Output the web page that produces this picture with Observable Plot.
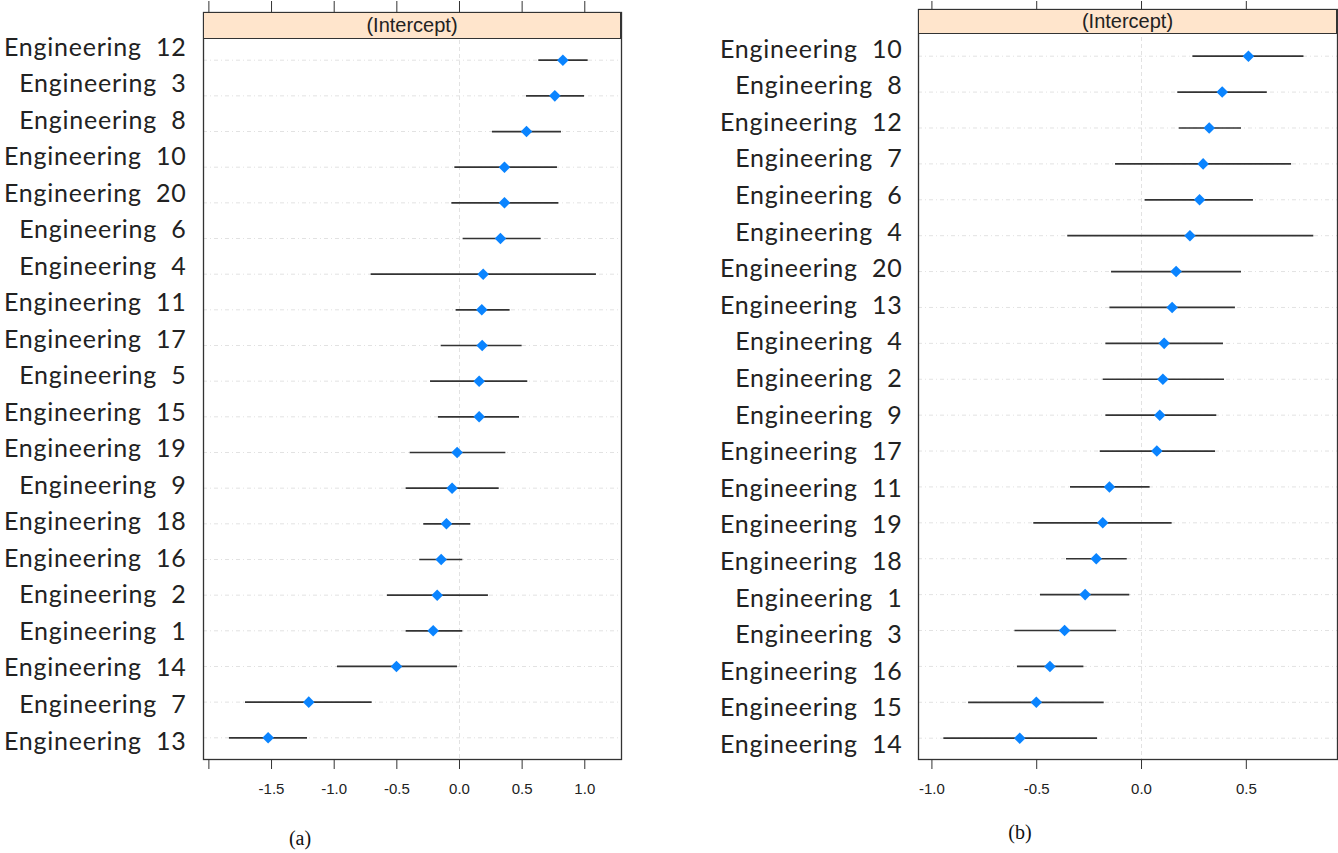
<!DOCTYPE html>
<html>
<head>
<meta charset="utf-8">
<script src="https://cdn.jsdelivr.net/npm/d3@7"></script>
<script src="https://cdn.jsdelivr.net/npm/@observablehq/plot@0.6"></script>
<style>
  html, body { margin: 0; padding: 0; background: #fff; }
  #root { position: relative; width: 1338px; height: 853px; background: #fff; overflow: hidden; }
  #root svg { position: absolute; left: 0; top: 0; }
  .ylab text { white-space: pre; letter-spacing: 0.75px; }
  .strip { position: absolute; box-sizing: border-box; background: #ffe5cc; border: 1.3px solid #333;
           font-family: "Liberation Sans", Arial, sans-serif; font-size: 20px; color: #222;
           display: flex; align-items: center; justify-content: center; }
  .cap { position: absolute; font-family: "Liberation Serif", "DejaVu Serif", serif; font-size: 20px; color: #111;
         transform: translate(-50%, -50%); }
</style>
</head>
<body>
<div id="root"></div>
<script>
// ---- Panel (a) data ----
const labelsA = ["Engineering  12","Engineering  3","Engineering  8","Engineering  10","Engineering  20",
  "Engineering  6","Engineering  4","Engineering  11","Engineering  17","Engineering  5",
  "Engineering  15","Engineering  19","Engineering  9","Engineering  18","Engineering  16",
  "Engineering  2","Engineering  1","Engineering  14","Engineering  7","Engineering  13"];
const estA = [0.825,0.761,0.535,0.359,0.359,0.327,0.189,0.178,0.181,0.157,
              0.157,-0.019,-0.059,-0.104,-0.146,-0.178,-0.210,-0.503,-1.203,-1.527];
const loA  = [0.633,0.535,0.263,-0.037,-0.061,0.029,-0.705,-0.027,-0.146,-0.231,
              -0.168,-0.394,-0.426,-0.285,-0.317,-0.575,-0.426,-0.974,-1.708,-1.836];
const hiA  = [1.027,0.998,0.814,0.782,0.793,0.652,1.093,0.404,0.500,0.545,
              0.479,0.370,0.317,0.090,0.027,0.231,0.027,-0.016,-0.697,-1.213];
const ticksA = [-2.0,-1.5,-1.0,-0.5,0.0,0.5,1.0];

// ---- Panel (b) data ----
const labelsB = ["Engineering  10","Engineering  8","Engineering  12","Engineering  7","Engineering  6",
  "Engineering  4","Engineering  20","Engineering  13","Engineering  4","Engineering  2",
  "Engineering  9","Engineering  17","Engineering  11","Engineering  19","Engineering  18",
  "Engineering  1","Engineering  3","Engineering  16","Engineering  15","Engineering  14"];
const estB = [0.510,0.385,0.323,0.294,0.277,0.231,0.165,0.146,0.108,0.102,
              0.087,0.073,-0.153,-0.185,-0.216,-0.269,-0.367,-0.437,-0.502,-0.581];
const loB  = [0.245,0.173,0.180,-0.124,0.017,-0.352,-0.143,-0.151,-0.170,-0.183,
              -0.170,-0.197,-0.339,-0.514,-0.358,-0.482,-0.604,-0.592,-0.825,-0.943];
const hiB  = [0.775,0.600,0.477,0.716,0.534,0.822,0.477,0.448,0.391,0.396,
              0.359,0.353,0.041,0.146,-0.068,-0.056,-0.119,-0.275,-0.178,-0.210];
const ticksB = [-1.0,-0.5,0.0,0.5];

const stripText = "(Intercept)";
const captions = ["(a)", "(b)"];

const root = document.getElementById("root");
const W = 1338, H = 853;
const fmt = d => (d < 0 ? "-" : "") + Math.abs(d).toFixed(1);

function panel(cfg) {
  const idx = d3.range(cfg.labels.length);
  const main = Plot.plot({
    width: W, height: H,
    marginLeft: cfg.left, marginRight: W - cfg.right,
    marginTop: cfg.top, marginBottom: H - cfg.bottom,
    x: {domain: cfg.xdomain},
    y: {type: "point", padding: 0, round: false, domain: idx, range: cfg.yrange, axis: null},
    style: {background: "transparent", fontFamily: "Liberation Sans, Arial, sans-serif", color: "#222"},
    marks: [
      Plot.ruleY(idx, {y: d => d, stroke: "#e2e2e2", strokeWidth: 1, strokeDasharray: "4,3,1,3"}),
      Plot.ruleX([0], {stroke: "#e2e2e2", strokeWidth: 1, strokeDasharray: "4,3"}),
      Plot.ruleY(idx, {y: d => d, x1: i => cfg.lo[i], x2: i => cfg.hi[i], stroke: "#333", strokeWidth: 1.7}),
      Plot.dot(idx, {x: i => cfg.est[i], y: d => d, symbol: "diamond2", fill: "#0a84ff", stroke: "none", r: 5.2}),
      Plot.frame({stroke: "#333", strokeWidth: 1.3}),
      Plot.axisX({anchor: "bottom", ticks: cfg.ticks, tickSize: 10, tickPadding: 14,
                  tickFormat: d => cfg.hidden.includes(d) ? "" : fmt(d), fontSize: 15, stroke: "#333"}),
      Plot.axisX({anchor: "top", ticks: cfg.ticks, tickSize: cfg.top, tickFormat: () => "", stroke: "#333"})
    ]
  });
  root.appendChild(main);

  const lab = Plot.plot({
    width: W, height: H,
    marginLeft: cfg.left, marginRight: W - cfg.right, marginTop: 0, marginBottom: 0,
    className: "ylab",
    y: {type: "point", padding: 0, round: false, domain: idx, range: cfg.labrange},
    style: {background: "transparent", color: "#222"},
    marks: [
      Plot.axisY({tickSize: 0, tickPadding: cfg.pad, tickFormat: i => cfg.labels[i],
                  fontSize: 25, fontFamily: "Lato, sans-serif"})
    ]
  });
  root.appendChild(lab);

  const s = document.createElement("div");
  s.className = "strip";
  s.style.left = cfg.left + "px";
  s.style.top = cfg.top + "px";
  s.style.width = (cfg.right - cfg.left) + "px";
  s.style.height = (cfg.stripBottom - cfg.top) + "px";
  s.textContent = stripText;
  root.appendChild(s);

  const c = document.createElement("div");
  c.className = "cap";
  c.style.left = cfg.capX + "px";
  c.style.top = cfg.capY + "px";
  c.textContent = cfg.caption;
  root.appendChild(c);
}

panel({labels: labelsA, est: estA, lo: loA, hi: hiA, ticks: ticksA, hidden: [-2.0],
       left: 203, right: 621, top: 12, bottom: 759, stripBottom: 39,
       xdomain: [-2.043, 1.293], yrange: [59.7, 737.3], labrange: [47, 741], pad: 17,
       caption: captions[0], capX: 300, capY: 838});

panel({labels: labelsB, est: estB, lo: loB, hi: hiB, ticks: ticksB, hidden: [],
       left: 918, right: 1337, top: 9, bottom: 759, stripBottom: 34,
       xdomain: [-1.064, 0.935], yrange: [55.7, 737.7], labrange: [49, 744.5], pad: 16,
       caption: captions[1], capX: 1020, capY: 832});
</script>
</body>
</html>
